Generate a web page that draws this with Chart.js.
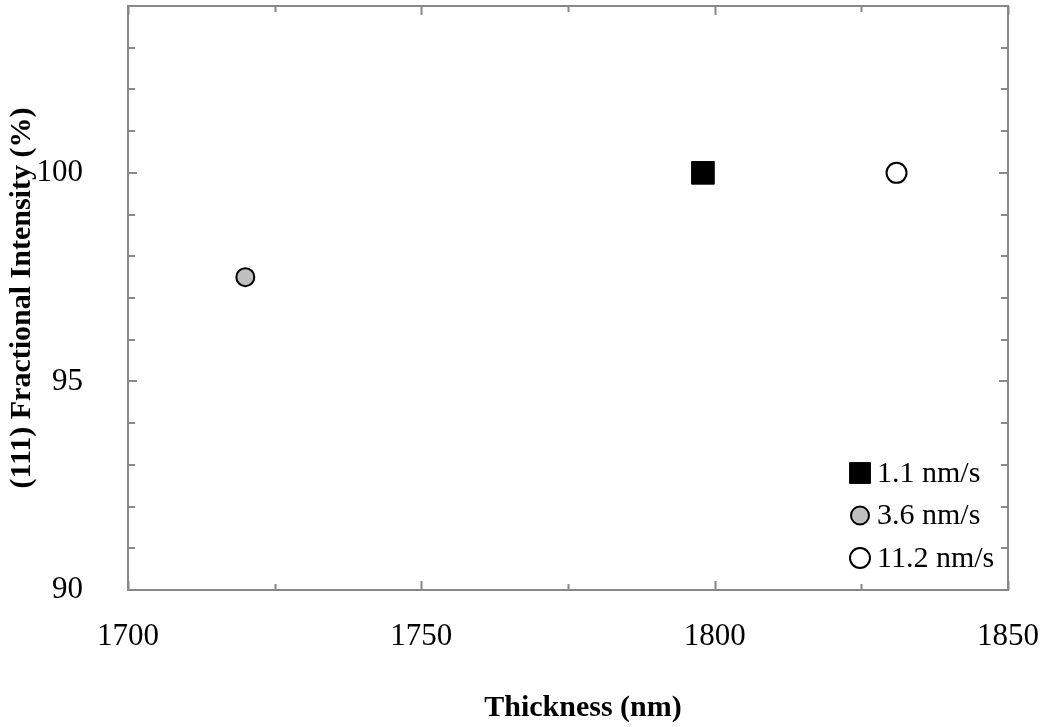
<!DOCTYPE html>
<html>
<head>
<meta charset="utf-8">
<script src="https://cdn.jsdelivr.net/npm/chart.js@4.4.1/dist/chart.umd.min.js"></script>
<style>
  html, body { margin: 0; padding: 0; background: #ffffff; }
  #wrap { width: 1047px; height: 727px; }
</style>
</head>
<body>
<div id="wrap"><canvas id="chart" width="1047" height="727"></canvas></div>
<script>
// deposition rates and their single measurement each
const seriesLabels = ['1.1 nm/s', '3.6 nm/s', '11.2 nm/s'];
const thickness = [1798, 1720, 1831];
const intensity = [100, 97.5, 100];

const xTickLabels = [1700, 1750, 1800, 1850];
const xMinorTicks = [1725, 1775, 1825];
const yTickLabels = [90, 95, 100];
const yMinorTicks = [91, 92, 93, 94, 96, 97, 98, 99, 101, 102, 103];

const markerStyles = [
  { pointStyle: 'rect', radius: 16, fill: '#000000', border: 1 },
  { pointStyle: 'circle', radius: 9, fill: '#bfbfbf', border: 2 },
  { pointStyle: 'circle', radius: 10, fill: '#ffffff', border: 2 },
];

const FONT = "'Liberation Serif', 'Times New Roman', serif";
const AXIS_GREY = '#888888';

const datasets = seriesLabels.map((label, i) => ({
  label: label,
  data: [{ x: thickness[i], y: intensity[i] }],
  pointStyle: markerStyles[i].pointStyle,
  pointRadius: markerStyles[i].radius,
  pointHoverRadius: markerStyles[i].radius,
  backgroundColor: markerStyles[i].fill,
  borderColor: '#000000',
  borderWidth: markerStyles[i].border,
}));

// box around the plot with inward tick marks on all four sides
const framePlugin = {
  id: 'frame',
  beforeDatasetsDraw(chart) {
    const { ctx, chartArea: a, scales } = chart;
    ctx.save();
    ctx.strokeStyle = AXIS_GREY;
    ctx.lineWidth = 2;
    ctx.beginPath();
    const tickX = (v, len) => {
      const px = Math.round(scales.x.getPixelForValue(v)) + 0.5;
      ctx.moveTo(px, a.bottom); ctx.lineTo(px, a.bottom - len);
      ctx.moveTo(px, a.top); ctx.lineTo(px, a.top + len);
    };
    const tickY = (v, len) => {
      const py = Math.round(scales.y.getPixelForValue(v));
      ctx.moveTo(a.left, py); ctx.lineTo(a.left + len, py);
      ctx.moveTo(a.right, py); ctx.lineTo(a.right - len, py);
    };
    xTickLabels.forEach(v => tickX(v, 9));
    xMinorTicks.forEach(v => tickX(v, 6));
    yTickLabels.forEach(v => tickY(v, 9));
    yMinorTicks.forEach(v => tickY(v, 7));
    ctx.stroke();
    ctx.strokeRect(a.left, a.top, a.right - a.left, a.bottom - a.top);
    ctx.restore();
  }
};

// bold axis titles
const titlesPlugin = {
  id: 'axisTitles',
  afterDraw(chart) {
    const { ctx, chartArea: a } = chart;
    ctx.save();
    ctx.fillStyle = '#000000';
    ctx.font = 'bold 30px ' + FONT;
    ctx.textAlign = 'center';
    ctx.textBaseline = 'middle';
    ctx.fillText('Thickness (nm)', (a.left + a.right) / 2 + 15, 708);
    ctx.translate(22, (a.top + a.bottom) / 2);
    ctx.rotate(-Math.PI / 2);
    ctx.fillText('(111) Fractional Intensity (%)', 0, 0);
    ctx.restore();
  }
};

// legend sitting in the lower right corner of the plot
const cornerLegend = {
  id: 'cornerLegend',
  afterDatasetsDraw(chart) {
    const { ctx, chartArea: a } = chart;
    const rowGap = 42.5;
    const n = chart.data.datasets.length;
    ctx.save();
    ctx.font = '30px ' + FONT;
    ctx.textAlign = 'left';
    ctx.textBaseline = 'middle';
    chart.data.datasets.forEach((ds, i) => {
      const y = a.bottom - 32 - (n - 1 - i) * rowGap;
      const x = a.right - 148;
      ctx.fillStyle = ds.backgroundColor;
      ctx.strokeStyle = ds.borderColor;
      ctx.lineWidth = ds.borderWidth;
      Chart.helpers.drawPoint(ctx, {
        pointStyle: ds.pointStyle,
        radius: ds.pointStyle === 'rect' ? ds.pointRadius * 0.92 : ds.pointRadius,
        borderWidth: ds.borderWidth,
        rotation: 0,
      }, x, y);
      ctx.fillStyle = '#000000';
      ctx.fillText(ds.label, x + 17, y + 1);
    });
    ctx.restore();
  }
};

new Chart(document.getElementById('chart'), {
  type: 'scatter',
  data: { datasets: datasets },
  options: {
    responsive: false,
    animation: false,
    events: [],
    layout: { autoPadding: false, padding: { top: 6, right: 39, left: 0, bottom: 0 } },
    plugins: {
      legend: { display: false },
      tooltip: { enabled: false },
    },
    scales: {
      x: {
        type: 'linear',
        min: 1700,
        max: 1850,
        grid: { display: false },
        border: { display: false },
        ticks: {
          padding: 20,
          color: '#000000',
          font: { family: FONT, size: 31 },
          callback: v => String(v),
        },
        afterBuildTicks(scale) {
          scale.ticks = xTickLabels.map(v => ({ value: v }));
        },
        afterFit(scale) {
          scale.height = 137;
          scale.paddingLeft = 0;
          scale.paddingRight = 0;
        },
      },
      y: {
        type: 'linear',
        min: 90,
        max: 104,
        grid: { display: false },
        border: { display: false },
        ticks: {
          padding: 37,
          color: '#000000',
          font: { family: FONT, size: 31 },
          callback: v => String(v),
        },
        afterBuildTicks(scale) {
          scale.ticks = yTickLabels.map(v => ({ value: v }));
        },
        afterFit(scale) {
          scale.width = 128;
          scale.paddingTop = 0;
          scale.paddingBottom = 0;
        },
      },
    },
  },
  plugins: [framePlugin, cornerLegend, titlesPlugin],
});
</script>
</body>
</html>
